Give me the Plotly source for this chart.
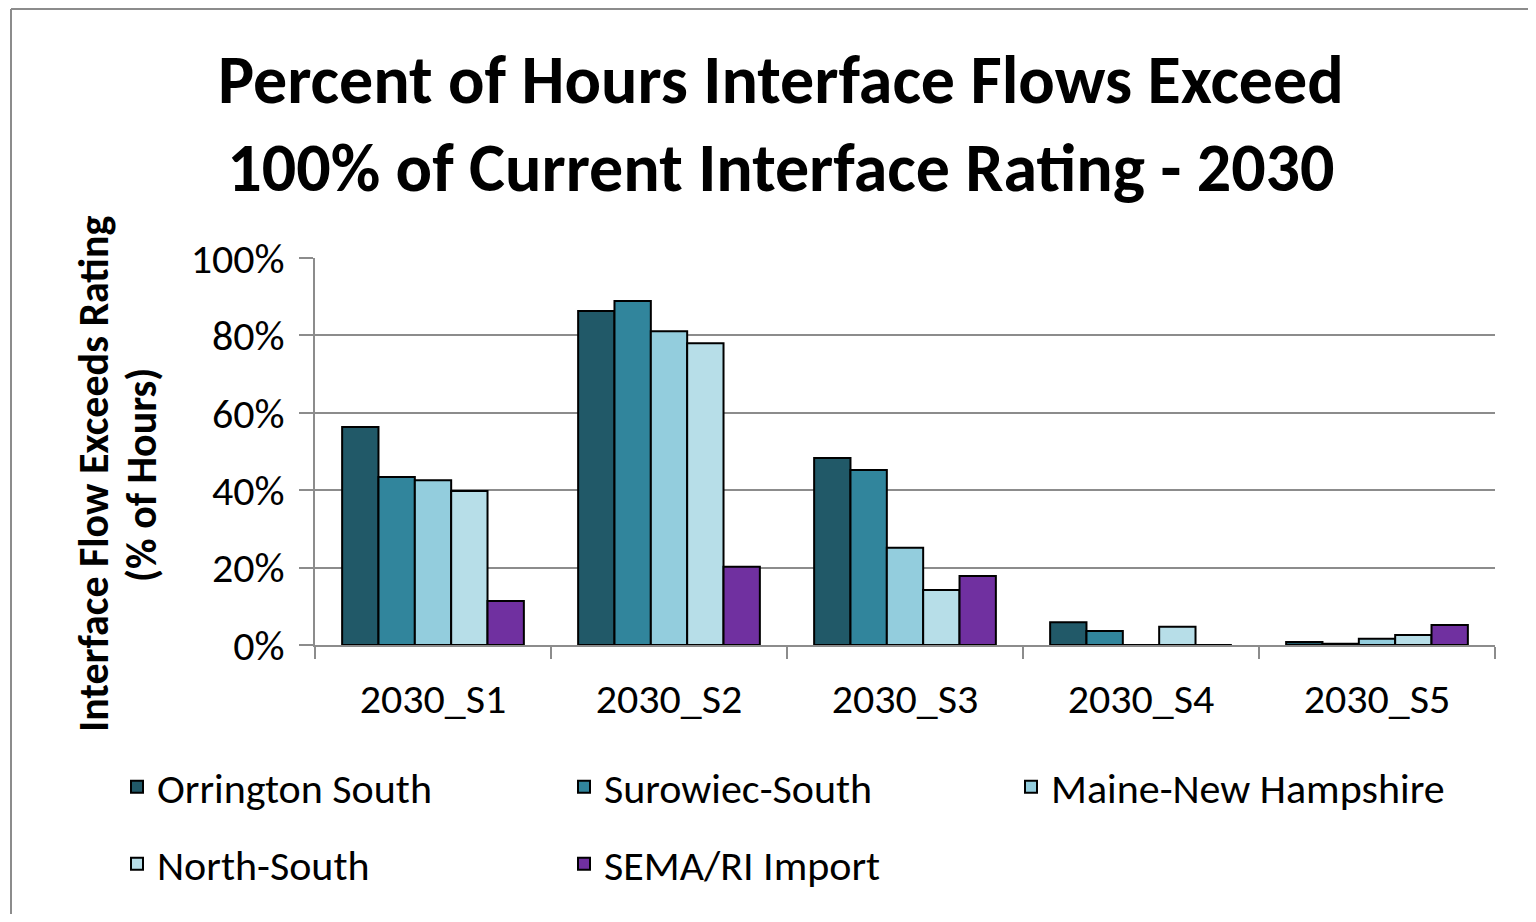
import plotly.graph_objects as go

# Scenario categories on the x axis
scenarios = ["2030_S1", "2030_S2", "2030_S3", "2030_S4", "2030_S5"]

# Percent of hours flow exceeds rating
orrington_south = [56.3, 86.3, 48.3, 5.9, 0.8]
surowiec_south = [43.4, 88.9, 45.2, 3.6, 0.3]
maine_new_hampshire = [42.6, 81.1, 25.1, 0.0, 1.6]
north_south = [39.8, 78.0, 14.2, 4.7, 2.6]
sema_ri_import = [11.4, 20.2, 17.8, 0.0, 5.2]

series = [
    ("Orrington South", orrington_south, "#215968", "legend"),
    ("Surowiec-South", surowiec_south, "#31859C", "legend"),
    ("Maine-New Hampshire", maine_new_hampshire, "#93CDDD", "legend"),
    ("North-South", north_south, "#B7DEE8", "legend2"),
    ("SEMA/RI Import", sema_ri_import, "#7030A0", "legend2"),
]

FONT = "Carlito, Calibri, Lato, sans-serif"
GRID = "#8c8c8c"

fig = go.Figure()
for name, vals, color, leg in series:
    fig.add_trace(
        go.Bar(
            x=scenarios,
            y=vals,
            name=name,
            marker=dict(color=color, line=dict(color="black", width=2)),
            legend=leg,
        )
    )

# the page puts the figure 8px in from the top-left corner (and keeps 8px
# of body margin on the other sides, so keep the figure inside the window)
OFF = 8
W, H = 1536 - 2 * OFF, 922 - 2 * OFF
# plot area in page pixels: x 315..1495, y 258..645
L, R, T, B = 315 - OFF, 1495 - OFF, 258 - OFF, 645 - OFF


def px_x(p):
    return (p - OFF - L) / (R - L)


def px_y(p):
    return (B - (p - OFF)) / (B - T)


legend_common = dict(
    orientation="h",
    xanchor="left",
    yanchor="middle",
    x=px_x(117),
    font=dict(family=FONT, size=42, color="black"),
    entrywidth=402,
    entrywidthmode="pixels",
    bgcolor="rgba(0,0,0,0)",
)

fig.update_layout(
    width=W,
    height=H,
    margin=dict(l=L, r=W - R, t=T, b=H - B),
    paper_bgcolor="white",
    plot_bgcolor="white",
    barmode="group",
    bargap=0.23,
    bargroupgap=0,
    font=dict(family=FONT, color="black"),
    legend=dict(legend_common, y=px_y(787)),
    legend2=dict(legend_common, y=px_y(864)),
    xaxis=dict(
        showline=True,
        linecolor=GRID,
        linewidth=2,
        ticks="outside",
        tickson="boundaries",
        ticklen=12,
        tickcolor=GRID,
        tickwidth=2,
        ticklabelstandoff=16,
        tickfont=dict(family=FONT, size=42, color="black"),
        showgrid=False,
    ),
    yaxis=dict(
        range=[0, 100],
        dtick=20,
        ticksuffix="%",
        showline=True,
        linecolor=GRID,
        linewidth=2,
        ticks="outside",
        ticklen=14,
        tickcolor=GRID,
        tickwidth=2,
        ticklabelstandoff=6,
        tickfont=dict(family=FONT, size=42, color="black"),
        showgrid=True,
        gridcolor=GRID,
        gridwidth=2,
        zeroline=False,
    ),
    annotations=[
        dict(
            text="<b>Percent of Hours Interface Flows Exceed<br>100% of Current Interface Rating - 2030</b>",
            xref="paper",
            yref="paper",
            x=px_x(781),
            y=px_y(123),
            xanchor="center",
            yanchor="middle",
            showarrow=False,
            font=dict(family=FONT, size=68, color="black"),
        ),
        dict(
            text="<b>Interface Flow Exceeds Rating</b>",
            xref="paper",
            yref="paper",
            x=px_x(93),
            y=px_y(474),
            xanchor="center",
            yanchor="middle",
            textangle=-90,
            showarrow=False,
            font=dict(family=FONT, size=42, color="black"),
        ),
        dict(
            text="<b>(% of Hours)</b>",
            xref="paper",
            yref="paper",
            x=px_x(141),
            y=px_y(475),
            xanchor="center",
            yanchor="middle",
            textangle=-90,
            showarrow=False,
            font=dict(family=FONT, size=42, color="black"),
        ),
    ],
    # outer chart frame: only the left and top edges are in view
    shapes=[
        dict(
            type="line",
            xref="paper",
            yref="paper",
            x0=px_x(11),
            x1=px_x(11),
            y0=px_y(980),
            y1=px_y(9),
            line=dict(color=GRID, width=2),
            layer="below",
        ),
        dict(
            type="line",
            xref="paper",
            yref="paper",
            x0=px_x(11),
            x1=px_x(1600),
            y0=px_y(9),
            y1=px_y(9),
            line=dict(color=GRID, width=2),
            layer="below",
        ),
    ],
)

fig.write_html("out.html")
